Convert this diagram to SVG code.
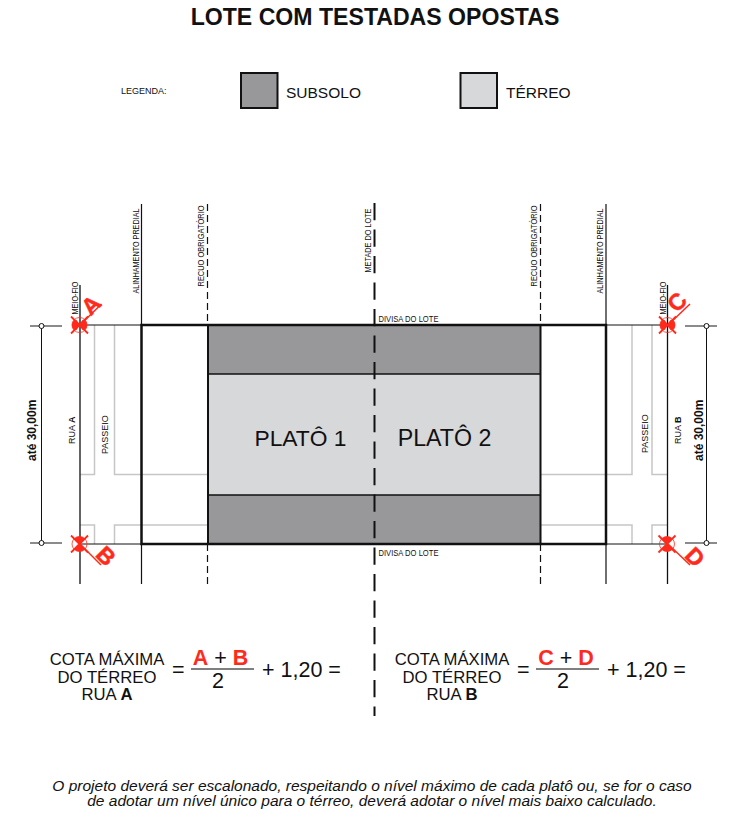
<svg xmlns="http://www.w3.org/2000/svg" width="744" height="817" viewBox="0 0 744 817">
<style>
text{font-family:"Liberation Sans",Arial,sans-serif;fill:#111}
.sub{fill:#98989b}.ter{fill:#d7d8da}
.k{stroke:#111;fill:none}
.g{stroke:#c6c6c6;stroke-width:1.5;fill:none}
.r{fill:#ff2a1c;font-weight:bold}
.t5{font-size:8.4px}
.f17{font-size:16.7px}
.f19{font-size:21.5px}
.red{stroke:#ff2a1c;fill:none}
.pin{font-size:23px;text-anchor:middle;stroke:#ff2a1c;stroke-width:.5}
</style>
<rect width="744" height="817" fill="#fff"/>
<text x="375" y="25" font-size="23.100" font-weight="bold" text-anchor="middle">LOTE COM TESTADAS OPOSTAS</text>
<g id="legenda">
<text x="121" y="93.500" font-size="9">LEGENDA:</text>
<rect class="sub k" style="fill:#98989b;stroke-width:2" x="241" y="73" width="36.500" height="35"/>
<text x="286" y="98" font-size="15.500">SUBSOLO</text>
<rect class="ter k" style="fill:#d7d8da;stroke-width:2" x="460.500" y="73" width="36.500" height="35"/>
<text x="506" y="98" font-size="15.500">TÉRREO</text>
</g>
<g id="passeio">
<path class="g" d="M94.500 325V474.500H80M114.500 325V474.500H141M94.500 544V525H80M114.500 544V525H141"/>
<path class="g" d="M141 474.500H208M141 525H208"/>
<path class="g" d="M632 325V474.500H606M652 325V474.500H667M632 544V525H606M652 544V525H667"/>
<path class="g" d="M540 474.500H606M540 525H606"/>
</g>
<g id="platos">
<rect class="sub" x="208" y="325" width="332.500" height="49"/>
<rect class="ter" x="208" y="374" width="332.500" height="121"/>
<rect class="sub" x="208" y="495" width="332.500" height="49"/>
<path class="k" stroke-width="1.500" d="M208 374H540.500M208 495H540.500"/>
<path class="k" stroke-width="2" d="M208 325V544M540.500 325V544"/>
<rect class="k" stroke-width="2.500" x="141.500" y="325" width="464.500" height="219"/>
<text x="300.500" y="445.500" font-size="22.800" text-anchor="middle">PLATÔ 1</text>
<text x="444.500" y="445.500" font-size="23.200" text-anchor="middle">PLATÔ 2</text>
</g>
<g id="conectores">
<path class="k" stroke-width="1" d="M80 325H141M80 544H141M606 325H667.500M606 544H667.500"/>
<path class="k" stroke-width="1.200" d="M141.500 204V325M141.500 544V584M606 204V325M606 544V584"/>
<path class="k" stroke-width="1.200" stroke-dasharray="7 4" d="M207.500 204V325M207.500 544V584M540.500 204V325M540.500 544V584"/>
<path class="k" stroke-width="2" stroke-dasharray="17.300 9.200" d="M374.500 203V716"/>
<path class="k" stroke-width="1.300" d="M80 285V584M667.500 285V584"/>
<path class="k" stroke-width="1" d="M41.500 326V543M706.500 326V543"/>
<path stroke="#666" stroke-width="1.500" fill="none" d="M30 326H62M30 543H62M685 326H717M685 543H717"/>
<circle cx="41.500" cy="326" r="2.500" fill="#fff" stroke="#111"/><circle cx="41.500" cy="543" r="2.500" fill="#fff" stroke="#111"/>
<circle cx="706.500" cy="326" r="2.500" fill="#fff" stroke="#111"/><circle cx="706.500" cy="543" r="2.500" fill="#fff" stroke="#111"/>
</g>
<g id="rotulos">
<text class="t5" textLength="85" lengthAdjust="spacingAndGlyphs" transform="translate(139 293.500) rotate(-90)">ALINHAMENTO PREDIAL</text>
<text class="t5" textLength="81" lengthAdjust="spacingAndGlyphs" transform="translate(204 286.500) rotate(-90)">RECUO OBRIGATÓRIO</text>
<text class="t5" textLength="64" lengthAdjust="spacingAndGlyphs" transform="translate(371 272.500) rotate(-90)">METADE DO LOTE</text>
<text class="t5" textLength="81" lengthAdjust="spacingAndGlyphs" transform="translate(537 286.500) rotate(-90)">RECUO OBRIGATÓRIO</text>
<text class="t5" textLength="85" lengthAdjust="spacingAndGlyphs" transform="translate(603 293.500) rotate(-90)">ALINHAMENTO PREDIAL</text>
<text class="t5" textLength="33" lengthAdjust="spacingAndGlyphs" transform="translate(78 314.500) rotate(-90)">MEIO-FIO</text>
<text class="t5" textLength="33" lengthAdjust="spacingAndGlyphs" transform="translate(665.500 314.500) rotate(-90)">MEIO-FIO</text>
<text class="t5" textLength="60" lengthAdjust="spacingAndGlyphs" x="378.500" y="322">DIVISA DO LOTE</text>
<text class="t5" textLength="60" lengthAdjust="spacingAndGlyphs" x="378.500" y="556">DIVISA DO LOTE</text>
<text font-size="9" transform="translate(75 444) rotate(-90)">RUA <tspan font-weight="bold">A</tspan></text>
<text font-size="9" transform="translate(108 454) rotate(-90)">PASSEIO</text>
<text font-size="9" transform="translate(648 453) rotate(-90)">PASSEIO</text>
<text font-size="9" transform="translate(681 444) rotate(-90)">RUA <tspan font-weight="bold">B</tspan></text>
<text transform="translate(36 461) rotate(-90)" font-size="12" font-weight="bold">até 30,00m</text>
<text transform="translate(703 461) rotate(-90)" font-size="12" font-weight="bold">até 30,00m</text>
</g>
<defs>
<g id="marco">
<circle r="7.500" fill="none" stroke="#ff2a1c" stroke-width=".8"/>
<path class="red" stroke-width="1.800" d="M-8.500-8.500L8.500 8.500M-8.500 8.500L8.500-8.500"/>
<path fill="#ff2a1c" d="M-6.500-3.800A7.500 7.500 0 0 0-6.500 3.800L-3 5L0 0L-3-5ZM6.500-3.800A7.500 7.500 0 0 1 6.500 3.800L3 5L0 0L3-5Z"/>
</g>
<g id="marco2">
<circle r="7.500" fill="none" stroke="#ff2a1c" stroke-width=".8"/>
<path class="red" stroke-width="1.800" d="M-8.500-8.500L8.500 8.500M-8.500 8.500L8.500-8.500"/>
<path fill="#ff2a1c" d="M-5.300-5.300A7.500 7.500 0 0 1 5.300-5.300L0 0ZM-5.300 5.300A7.500 7.500 0 0 0 5.300 5.300L0 0Z"/>
</g>
</defs>
<g id="ponto-a"><use href="#marco" x="79.500" y="325"/><path class="red" stroke-width="1.500" d="M80 325L101.500 304"/><text class="r pin" transform="translate(91 305) rotate(-45) translate(0 8)">A</text></g>
<g id="ponto-b"><use href="#marco2" x="79.500" y="544"/><path class="red" stroke-width="1.500" d="M80 544L101 565"/><text class="r pin" transform="translate(106 556) rotate(45) translate(0 8)">B</text></g>
<g id="ponto-c"><use href="#marco" x="667.500" y="325"/><path class="red" stroke-width="1.500" d="M668 325L690 304"/><text class="r pin" transform="translate(677 302) rotate(-45) translate(0 8)">C</text></g>
<g id="ponto-d"><use href="#marco2" x="667" y="544"/><path class="red" stroke-width="1.500" d="M668 544L690 565"/><text class="r pin" transform="translate(695 557) rotate(45) translate(0 8)">D</text></g>
<g id="formula-a">
<text class="f17" x="107" y="665" text-anchor="middle">COTA MÁXIMA</text>
<text class="f17" x="107" y="683" text-anchor="middle">DO TÉRREO</text>
<text class="f17" x="107" y="700" text-anchor="middle">RUA <tspan font-weight="bold">A</tspan></text>
<text class="f19" x="172" y="677">=</text>
<text class="f19" x="220.500" y="665" text-anchor="middle"><tspan class="r">A</tspan> + <tspan class="r">B</tspan></text>
<path stroke="#555" stroke-width="1.500" d="M191 669H254"/>
<text class="f19" x="218" y="688" text-anchor="middle">2</text>
<text class="f19" x="262" y="677">+ 1,20 =</text>
</g>
<g id="formula-b">
<text class="f17" x="452" y="665" text-anchor="middle">COTA MÁXIMA</text>
<text class="f17" x="452" y="683" text-anchor="middle">DO TÉRREO</text>
<text class="f17" x="452" y="700" text-anchor="middle">RUA <tspan font-weight="bold">B</tspan></text>
<text class="f19" x="517" y="677">=</text>
<text class="f19" x="566" y="665" text-anchor="middle"><tspan class="r">C</tspan> + <tspan class="r">D</tspan></text>
<path stroke="#555" stroke-width="1.500" d="M536 669H599"/>
<text class="f19" x="563" y="688" text-anchor="middle">2</text>
<text class="f19" x="607" y="677">+ 1,20 =</text>
</g>
<g id="nota" font-size="15.500" font-style="italic" text-anchor="middle">
<text x="372" y="791">O projeto deverá ser escalonado, respeitando o nível máximo de cada platô ou, se for o caso</text>
<text x="372" y="806">de adotar um nível único para o térreo, deverá adotar o nível mais baixo calculado.</text>
</g>
</svg>
